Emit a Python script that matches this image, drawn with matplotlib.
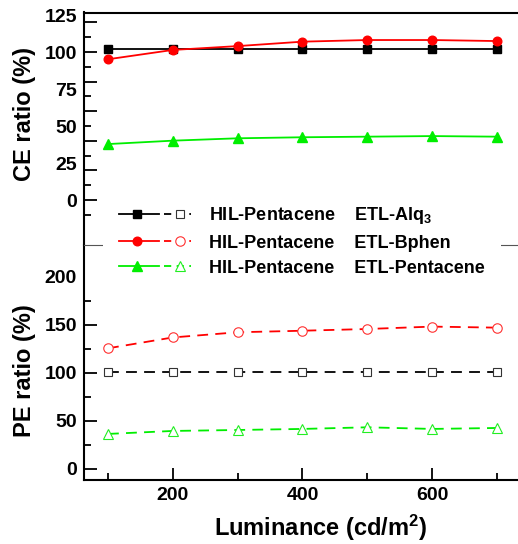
import matplotlib
matplotlib.use('Agg')
import matplotlib.pyplot as plt
from matplotlib.lines import Line2D
from matplotlib.legend_handler import HandlerBase

plt.rcParams['font.family'] = ['Liberation Sans', 'DejaVu Sans']
plt.rcParams['font.weight'] = 'bold'
plt.rcParams['mathtext.fontset'] = 'custom'
plt.rcParams['mathtext.rm'] = 'Liberation Sans:bold'
plt.rcParams['mathtext.it'] = 'Liberation Sans:bold'
plt.rcParams['mathtext.bf'] = 'Liberation Sans:bold'

luminance = [100, 200, 300, 400, 500, 600, 700]
ce_alq3 = [101.8, 101.8, 101.8, 101.8, 101.8, 101.8, 101.8]
ce_bphen = [95.1, 101.4, 104.0, 107.0, 108.1, 108.1, 107.4]
ce_pent = [37.8, 40.1, 41.7, 42.4, 42.8, 43.2, 42.8]
pe_alq3 = [101.5, 101.5, 101.5, 101.5, 101.5, 101.5, 101.5]
pe_bphen = [125.7, 137.0, 142.4, 144.0, 145.8, 148.3, 147.2]
pe_pent = [36.5, 39.6, 40.6, 41.7, 43.4, 41.7, 42.7]

series_labels = ['HIL-Pentacene    ETL-Alq$_3$',
                 'HIL-Pentacene    ETL-Bphen',
                 'HIL-Pentacene    ETL-Pentacene']
colors = ['black', '#ff0000', '#00ee00']
open_edge = ['#333333', '#ff3030', '#22ee22']
markers = ['s', 'o', '^']
msizes = [5.2, 6.2, 7.2]
upper_labels = [0, 25, 50, 75, 100, 125]
lower_labels = [0, 50, 100, 150, 200]


class PairHandler(HandlerBase):
    def create_artists(self, legend, orig_handle, xdescent, ydescent,
                       width, height, fontsize, trans):
        solid, dashed = orig_handle
        y = height / 2 - ydescent
        x0 = -xdescent
        l1 = Line2D([x0, x0 + 0.55 * width], [y, y], color=solid.get_color(),
                    lw=solid.get_linewidth())
        m1 = Line2D([x0 + 0.25 * width], [y], ls='none', marker=solid.get_marker(),
                    ms=solid.get_markersize(), mfc=solid.get_markerfacecolor(),
                    mec=solid.get_markeredgecolor())
        l2 = Line2D([x0 + 0.62 * width, x0 + width], [y, y], color=dashed.get_color(),
                    lw=dashed.get_linewidth(), dashes=(4, 3))
        m2 = Line2D([x0 + 0.84 * width], [y], ls='none', marker=dashed.get_marker(),
                    ms=dashed.get_markersize(), mfc='white',
                    mec=dashed.get_markeredgecolor(), mew=dashed.get_markeredgewidth())
        arts = [l1, m1, l2, m2]
        for a in arts:
            a.set_transform(trans)
        return arts


W, H = 518, 544
fig = plt.figure(figsize=(W / 100, H / 100), dpi=100)
left = 84 / W
mid = 1 - 245 / H
top = 1 - 12.5 / H
bot = 1 - 480 / H
ax1 = fig.add_axes([left, mid, 1 - left, top - mid])
ax2 = fig.add_axes([left, bot, 1 - left, mid - bot])

xlim = (63, 732.4)
ce = [ce_alq3, ce_bphen, ce_pent]
pe = [pe_alq3, pe_bphen, pe_pent]
for i in range(3):
    ax1.plot(luminance, ce[i], color=colors[i], lw=1.3, marker=markers[i],
             ms=msizes[i], mfc=colors[i], mec=colors[i], zorder=3)
    ax2.plot(luminance, pe[i], color=colors[i], lw=1.3, dashes=(6, 4),
             marker=markers[i], ms=msizes[i] + 0.6, mfc='white',
             mec=open_edge[i], mew=0.8, zorder=3)

# upper axes
ax1.set_xlim(*xlim)
ax1.set_ylim(-30.4, 126.7)
for s in ['right', 'bottom']:
    ax1.spines[s].set_visible(False)
for s in ['left', 'top']:
    ax1.spines[s].set_linewidth(1.5)
ax1.set_xticks([])
ax1.set_yticks(upper_labels)
ax1.tick_params(axis='y', length=0, pad=5, labelsize=14)
sec = ax1.secondary_yaxis('left', functions=(lambda v: v, lambda v: v))
sec.set_yticks([0, 20, 40, 60, 80, 100, 120])
sec.set_yticklabels([])
sec.set_yticks([-10, 10, 30, 50, 70, 90, 110], minor=True)
sec.tick_params(which='major', direction='in', length=9, width=1.3)
sec.tick_params(which='minor', direction='in', length=5, width=1.3)
sec.spines['left'].set_visible(False)
ax1.set_ylabel('CE ratio (%)', fontsize=17, fontweight='bold')
ax1.yaxis.set_label_coords(-0.11, 0.563)

# lower axes
ax2.set_xlim(*xlim)
ax2.set_ylim(-11.5, 233.3)
ax2.spines['right'].set_visible(False)
ax2.spines['top'].set_color('#555555')
ax2.spines['top'].set_linewidth(0.8)
for s in ['left', 'bottom']:
    ax2.spines[s].set_linewidth(1.5)
ax2.set_yticks(lower_labels)
ax2.set_yticks([25, 75, 125, 175], minor=True)
ax2.yaxis.get_major_ticks()[-1].tick1line.set_visible(False)
ax2.set_xticks([200, 400, 600])
ax2.set_xticks([100, 300, 500, 700], minor=True)
ax2.tick_params(which='major', direction='in', length=9, width=1.3, labelsize=14, pad=5)
ax2.tick_params(which='minor', direction='in', length=5, width=1.3)
ax2.set_ylabel('PE ratio (%)', fontsize=17, fontweight='bold')
ax2.yaxis.set_label_coords(-0.11, 0.464)
ax2.set_xlabel('Luminance (cd/m$^2$)', fontsize=17, fontweight='bold')
ax2.xaxis.set_label_coords(0.544, -0.14)

# legend
handles = []
for i in range(3):
    h1 = Line2D([], [], color=colors[i], lw=1.3, marker=markers[i], ms=msizes[i],
                mfc=colors[i], mec=colors[i])
    h2 = Line2D([], [], color=colors[i], lw=1.3, marker=markers[i],
                ms=msizes[i] + 0.6, mfc='white', mec=open_edge[i], mew=0.8)
    handles.append((h1, h2))
leg = fig.legend(handles, series_labels, loc='center',
                 bbox_to_anchor=(302 / W, 1 - 241 / H),
                 handler_map={tuple: PairHandler()},
                 frameon=True, facecolor='white', edgecolor='none', framealpha=1,
                 fancybox=False, prop={'size': 13, 'weight': 'bold'},
                 handlelength=4.0, handletextpad=1.0, labelspacing=0.45,
                 borderpad=0.9)

fig.savefig('out.png', dpi=100)
